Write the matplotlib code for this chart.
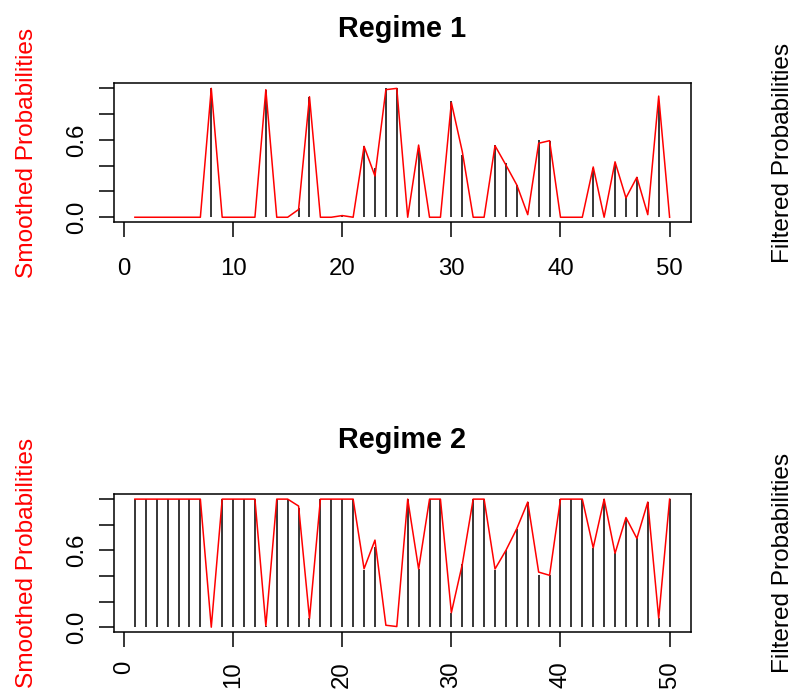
import matplotlib
matplotlib.use("Agg")
import matplotlib.pyplot as plt

plt.rcParams['font.family'] = ['Liberation Sans', 'DejaVu Sans']

# time index
t = list(range(1, 51))

# regime 1
smooth_r1 = [0, 0, 0, 0, 0, 0, 0, 1.0, 0, 0,
             0, 0, 0.99, 0, 0, 0.06, 0.935, 0, 0, 0.013,
             0, 0.55, 0.32, 0.99, 1.0, 0, 0.56, 0, 0, 0.89,
             0.51, 0, 0, 0.555, 0.405, 0.25, 0.02, 0.574, 0.594, 0,
             0, 0, 0.39, 0, 0.43, 0.15, 0.31, 0.02, 0.94, 0]
filt_r1 = [0, 0, 0, 0, 0, 0, 0, 1.0, 0, 0,
           0, 0, 0.99, 0, 0, 0.075, 0.93, 0, 0, 0.01,
           0, 0.55, 0.38, 1.0, 1.0, 0, 0.535, 0, 0, 0.90,
           0.48, 0, 0, 0.56, 0.42, 0.25, 0, 0.60, 0.59, 0,
           0, 0, 0.38, 0, 0.42, 0.16, 0.31, 0, 0.88, 0]

# regime 2
smooth_r2 = [1, 1, 1, 1, 1, 1, 1, 0, 1, 1,
             1, 1, 0.01, 1, 1, 0.946, 0.067, 1, 1, 1,
             1, 0.456, 0.68, 0.015, 0.005, 1, 0.454, 1, 1, 0.113,
             0.49, 1, 1, 0.454, 0.60, 0.77, 0.977, 0.43, 0.405, 1,
             1, 1, 0.62, 1, 0.577, 0.856, 0.693, 0.977, 0.07, 1]
filt_r2 = [1, 1, 1, 1, 1, 1, 1, 0, 1, 1,
           1, 1, 0.01, 1, 1, 0.93, 0.075, 1, 1, 1,
           1, 0.45, 0.63, 0, 0, 1, 0.454, 1, 1, 0.113,
           0.49, 1, 1, 0.45, 0.60, 0.77, 0.98, 0.41, 0.405, 1,
           1, 1, 0.62, 1, 0.577, 0.856, 0.693, 0.98, 0.075, 1]

titles = ["Regime 1", "Regime 2"]
xticks = [0, 10, 20, 30, 40, 50]
yticks = [0.0, 0.2, 0.4, 0.6, 0.8, 1.0]
ylabels = ["0.0", "", "", "0.6", "", ""]

W, H = 795, 691
fig = plt.figure(figsize=(W / 100, H / 100), dpi=100)

# axes boxes in pixels: (left, top, right, bottom)
boxes = [(113.5, 83.2, 691, 222.4), (113.5, 494, 691, 632.3)]
title_base = [36.7, 447.5]
panels = [(smooth_r1, filt_r1), (smooth_r2, filt_r2)]

for i, (sm, fl) in enumerate(panels):
    l, tp, r, b = boxes[i]
    ax = fig.add_axes([l / W, 1 - b / H, (r - l) / W, (b - tp) / H])
    ax.vlines(t, 0, fl, color='black', lw=1.1)
    ax.plot(t, sm, color='red', lw=1.1)
    ax.set_xlim(-0.96, 51.96)
    ax.set_ylim(-0.04, 1.04)
    for s in ax.spines.values():
        s.set_linewidth(1.1)
    ax.set_xticks(xticks)
    ax.set_yticks(yticks)
    ax.set_yticklabels(ylabels)
    ax.tick_params(length=10.8, width=1.1, labelsize=17.3, direction='out')
    ax.tick_params(axis='y', pad=7.8, labelrotation=90)
    for lab in ax.get_yticklabels():
        lab.set_va('center')
    if i == 0:
        ax.tick_params(axis='x', pad=15.0)
    else:
        ax.tick_params(axis='x', pad=9.8, labelrotation=90)

    cy = 1 - (tp + b) / 2 / H
    fig.text(401.7 / W, 1 - title_base[i] / H, titles[i], ha='center',
             va='baseline', fontsize=20.8, fontweight='bold')
    fig.text(26.7 / W, cy, "Smoothed Probabilities", rotation=90,
             ha='center', va='center', color='red', fontsize=17.6)
    fig.text(783 / W, cy, "Filtered Probabilities", rotation=90,
             ha='center', va='center', color='black', fontsize=17.6)

fig.savefig("out.png", dpi=100)
